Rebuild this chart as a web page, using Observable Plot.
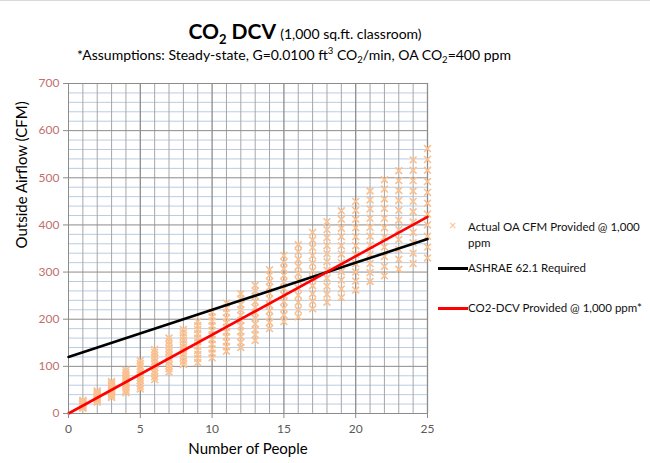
<!DOCTYPE html>
<html>
<head>
<meta charset="utf-8">
<script src="https://cdn.jsdelivr.net/npm/d3@7"></script>
<script src="https://cdn.jsdelivr.net/npm/@observablehq/plot@0.6"></script>
<style>
  html, body { margin: 0; padding: 0; background: #fff; }
  #wrap { position: relative; width: 650px; height: 463px; font-family: Lato, "Open Sans", sans-serif; overflow: hidden; border-top: 1px solid #d9d9d9; box-sizing: border-box; }
  #title { position: absolute; left: 0; width: 610px; top: 17px; text-align: center; color: #000; }
  #title .main { font-size: 21px; font-weight: bold; }
  #title .main sub { font-size: 13px; }
  #title .paren { font-size: 14px; }
  #subtitle { position: absolute; left: 0; width: 588px; top: 44px; text-align: center; font-size: 14px; color: #000; }
  #subtitle sub, #subtitle sup { font-size: 9.5px; }
  #chart { position: absolute; left: 0; top: 70px; }
  .leg { position: absolute; font-size: 11.5px; color: #111; line-height: 16px; }
  .legline { position: absolute; height: 3px; width: 30px; }
  .legx { position: absolute; color: #fac090; font-size: 13px; }
</style>
</head>
<body>
<div id="wrap">
  <div id="title"><span class="main">CO<sub>2</sub> DCV</span> <span class="paren">(1,000 sq.ft. classroom)</span></div>
  <div id="subtitle">*Assumptions: Steady-state, G=0.0100 ft<sup>3</sup> CO<sub>2</sub>/min, OA CO<sub>2</sub>=400 ppm</div>
  <div id="chart"></div>
  <div class="legx" style="left:449px; top:216px;">×</div>
  <div class="leg" style="left:468px; top:218px;">Actual OA CFM Provided @ 1,000<br>ppm</div>
  <div class="legline" style="left:438px; top:266px; background:#000;"></div>
  <div class="leg" style="left:468px; top:259px;">ASHRAE 62.1 Required</div>
  <div class="legline" style="left:438px; top:306px; background:#ff0000;"></div>
  <div class="leg" style="left:468px; top:299px;">CO2-DCV Provided @ 1,000 ppm*</div>
</div>
<script>
// ---- data ----
const people = [1,2,3,4,5,6,7,8,9,10,11,12,13,14,15,16,17,18,19,20,21,22,23,24,25];
const actualCFM = [
  [11,13,14,16,18,20,21,23,25,26,28],
  [24,26,29,31,34,36,38,41,43,46,48],
  [34,37,41,44,48,51,54,58,61,65,68],
  [44,49,54,58,63,68,73,78,82,87,92],
  [52,58,64,70,76,82,88,94,100,106,112],
  [72,78,85,91,98,104,110,117,123,130,136],
  [88,95,102,110,117,124,131,138,146,153,160],
  [104,111,119,126,134,141,148,156,163,171,178],
  [108,117,125,134,143,152,160,169,178,186,195],
  [118,128,137,147,157,167,176,186,196,205,215],
  [132,142,152,163,173,183,193,203,214,224,234],
  [140,151,163,174,186,197,208,220,231,243,254],
  [155,167,178,190,202,214,225,237,249,260,272],
  [180,193,205,218,230,243,255,268,280,293,305],
  [195,209,223,237,251,265,279,293,307,321,335],
  [205,220,236,251,266,282,297,312,327,343,358],
  [222,238,254,271,287,303,319,335,352,368,384],
  [236,253,270,287,304,322,339,356,373,390,407],
  [246,264,283,301,320,338,356,375,393,412,430],
  [262,281,300,318,337,356,375,394,412,431,450],
  [280,299,318,338,357,376,395,414,434,453,472],
  [292,312,333,353,374,394,414,435,455,476,496],
  [306,327,348,369,390,410,431,452,473,494,515],
  [318,340,362,384,406,428,450,472,494,516,538],
  [330,353,376,400,423,446,469,492,516,539,562]
];
const linePeople = [0, 25];
const ashraeCFM = [120, 370];
const dcvCFM = [0, 417];
const xTicks = [0, 5, 10, 15, 20, 25];
const yTicks = [0, 100, 200, 300, 400, 500, 600, 700];
const xMinorGrid = [1,2,3,4,6,7,8,9,11,12,13,14,16,17,18,19,21,22,23,24];
const yMinorGrid = [20,40,60,80,120,140,160,180,220,240,260,280,320,340,360,380,420,440,460,480,520,540,560,580,620,640,660,680];

// ---- build tables ----
const scatter = [];
people.forEach((p, i) => actualCFM[i].forEach(v => scatter.push({p, v})));
const ashrae = linePeople.map((p, i) => ({p, v: ashraeCFM[i]}));
const dcv = linePeople.map((p, i) => ({p, v: dcvCFM[i]}));

const chart = Plot.plot({
  width: 650,
  height: 393,
  marginLeft: 68,
  marginRight: 223,
  marginTop: 12,
  marginBottom: 51,
  style: { fontFamily: "Lato, 'Open Sans', sans-serif", background: "transparent" },
  x: { domain: [0, 25], ticks: xTicks, tickSize: 5, tickPadding: 6, label: null },
  y: { domain: [0, 700], ticks: yTicks, tickSize: 5, tickPadding: 5, label: null },
  marks: [
    Plot.ruleY(yMinorGrid, { stroke: "#b9cde5", strokeWidth: 1 }),
    Plot.ruleX(xMinorGrid, { stroke: "#a6a6a6", strokeWidth: 1 }),
    Plot.ruleY(yTicks.slice(1), { stroke: "#8c8c8c", strokeWidth: 1 }),
    Plot.ruleX(xTicks.slice(1), { stroke: "#8c8c8c", strokeWidth: 1.3 }),
    Plot.ruleX([0], { stroke: "#8c8c8c", strokeWidth: 1 }),
    Plot.ruleY([0], { stroke: "#8c8c8c", strokeWidth: 1 }),
    Plot.dot(scatter, { x: "p", y: "v", symbol: "times", r: 3.2, stroke: "#fac090", strokeWidth: 1.6 }),
    Plot.line(ashrae, { x: "p", y: "v", stroke: "#000", strokeWidth: 2.6 }),
    Plot.line(dcv, { x: "p", y: "v", stroke: "#ff0000", strokeWidth: 2.6 }),
    Plot.axisX({ ticks: xTicks, tickSize: 5, tickPadding: 6, stroke: "#8c8c8c", fill: "#595959", fontSize: 12,
      label: "Number of People", labelAnchor: "center", labelArrow: "none", labelOffset: 40 }),
    Plot.axisY({ ticks: yTicks, tickSize: 5, tickPadding: 4, stroke: "#8c8c8c", fill: "#c0706e", fontSize: 12,
      label: null }),
    Plot.text(["Outside Airflow (CFM)"], { frameAnchor: "left", dx: -46, rotate: -90, fontSize: 15, fill: "#000" })
  ]
});
chart.querySelectorAll("[aria-label='x-axis label'] text, [aria-label='x-axis label']").forEach(t => { t.setAttribute("font-size", "15"); t.setAttribute("fill", "#000"); });
document.getElementById("chart").appendChild(chart);
</script>
</body>
</html>
